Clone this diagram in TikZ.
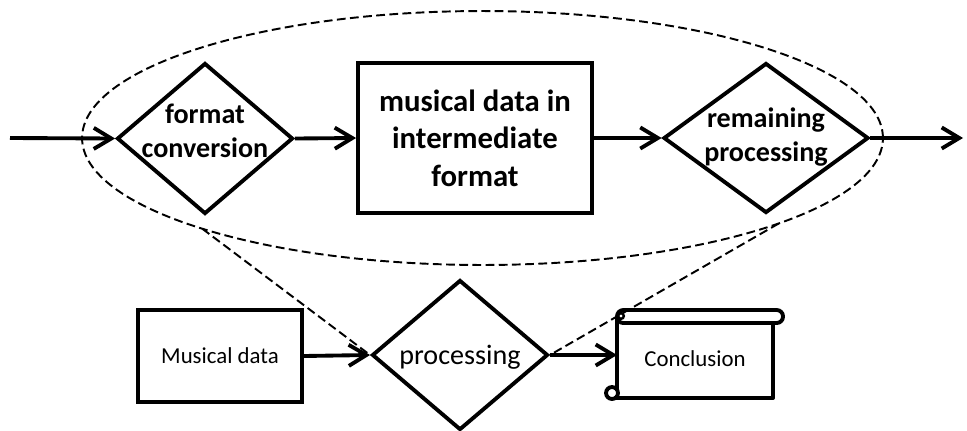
\documentclass[tikz,border=0pt]{standalone}
\usepackage{fontspec}
\setmainfont{Carlito}
\usetikzlibrary{arrows.meta,shapes.geometric,calc}
\begin{document}
\begin{tikzpicture}[x=0.02cm,y=-0.02cm,
  thickline/.style={line width=2.2pt},
  box/.style={draw,line width=2.2pt,rectangle,inner sep=0pt},
  dia/.style={draw,line width=2.2pt,diamond,inner sep=0pt},
  flow/.style={line width=2.2pt,-{Straight Barb[length=10pt,width=12pt]}},
  dashline/.style={line width=1.1pt,dash pattern=on 5pt off 2.5pt},
  bigbold/.style={font=\fontsize{17.5pt}{21.3pt}\selectfont\bfseries,align=center,inner sep=0pt},
  midbold/.style={font=\fontsize{16pt}{19.5pt}\selectfont\bfseries,align=center,inner sep=0pt},
  midreg/.style={font=\fontsize{16pt}{19.5pt}\selectfont,align=center,inner sep=0pt},
  smallreg/.style={font=\fontsize{13pt}{16pt}\selectfont,align=center,inner sep=0pt}
]
\useasboundingbox (0,0) rectangle (967,430);

% enclosing dashed ellipse
\node[draw,dashline,ellipse,minimum width=16.02cm,minimum height=5.08cm,inner sep=0pt] (ell) at (482.5,138) {};

% top row
\node[dia,minimum width=3.52cm,minimum height=3.02cm] (d1) at (205,138.5) {};
\node[midbold] (t1) at (205,131) {format\\conversion};
\node[box,bigbold,minimum width=4.68cm,minimum height=3.0cm] (r1) at (475,138) {musical data in\\intermediate\\format};
\node[dia,minimum width=4.1cm,minimum height=3.0cm] (d2) at (766,138) {};
\node[midbold] (t2) at (766,137) {remaining\\processing};

\coordinate (inL) at (10,138);
\coordinate (outR) at (963,138);
\draw[flow] (inL) -- (d1.west);
\draw[flow] (d1.east) -- (r1.west);
\draw[flow] (r1.east) -- (d2.west);
\draw[flow] (d2.east) -- (outR);

% bottom row
\node[box,smallreg,minimum width=3.28cm,minimum height=1.84cm] (md) at (220,356) {Musical data};
\node[dia,minimum width=3.52cm,minimum height=3.0cm] (proc) at (460,355) {};
\node[midreg] (tp) at (460,357) {processing};

% Conclusion scroll
\draw[thickline,line join=round] (617,316) -- (617,392);
\draw[thickline,line join=round] (611,398) -- (773,398) -- (773,323);
\draw[thickline,rounded corners=3.6pt,fill=white] (617,310) rectangle (783,323);
\draw[thickline,fill=white] (612,393) circle[radius=3.4pt];
\draw[line width=1.4pt] (621,316) circle[radius=1.6pt];
\node[smallreg,minimum width=3.12cm,minimum height=1.5cm] (concl) at (695,359) {Conclusion};

\draw[flow] (md.east) -- (proc.west);
\draw[flow] (proc.east) -- (proc.east -| 617,0);

% zoom lines from ellipse to processing
\coordinate (eL) at ($(ell.center)+({400.5*cos(134.4)},{127*sin(134.4)})$);
\coordinate (eR) at ($(ell.center)+({400.5*cos(42.3)},{127*sin(42.3)})$);
\draw[dashline] (eL) -- (proc.west);
\draw[dashline] (eR) -- (proc.east);
\end{tikzpicture}
\end{document}
